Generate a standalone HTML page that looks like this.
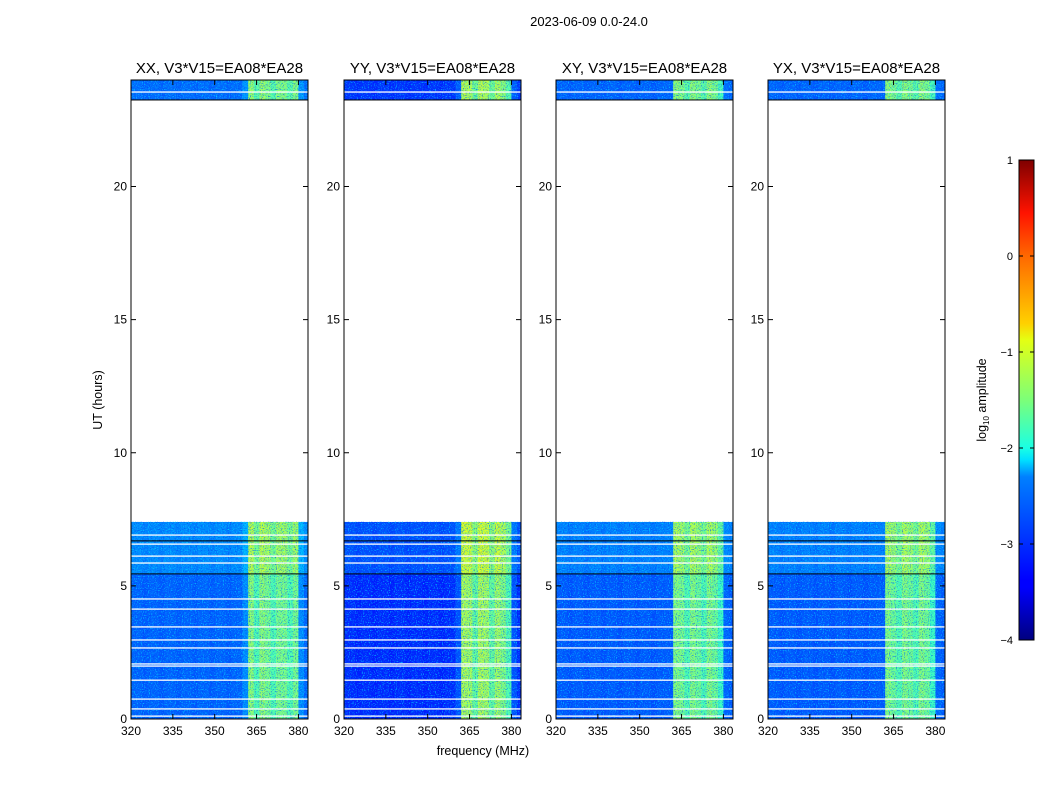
<!DOCTYPE html>
<html><head><meta charset="utf-8"><style>
body{margin:0;background:#fff;}
svg{display:block;font-family:"Liberation Sans","DejaVu Sans",sans-serif;}
</style></head><body>
<svg id="fig" width="1050" height="800" viewBox="0 0 1050 800">
<defs>
<linearGradient id="jet" x1="0" y1="1" x2="0" y2="0">
<stop offset="0" stop-color="#00007f"/><stop offset="0.11" stop-color="#0000ff"/><stop offset="0.125" stop-color="#0000ff"/>
<stop offset="0.34" stop-color="#0080ff"/><stop offset="0.375" stop-color="#00e0ff"/><stop offset="0.4" stop-color="#1affe4"/>
<stop offset="0.5" stop-color="#7cff79"/><stop offset="0.625" stop-color="#e4ff13"/><stop offset="0.66" stop-color="#ffd000"/>
<stop offset="0.8" stop-color="#ff6800"/><stop offset="0.89" stop-color="#ff1300"/><stop offset="1" stop-color="#7f0000"/>
</linearGradient>
<filter id="speckleLight" x="0" y="0" width="100%" height="100%">
<feTurbulence type="fractalNoise" baseFrequency="0.85" numOctaves="1" seed="3"/>
<feColorMatrix type="matrix" values="0 0 0 0 0  0 0 0 0 0.8  0 0 0 0 1  4 0 0 0 -2.1"/>
</filter>
<filter id="speckleDark" x="0" y="0" width="100%" height="100%">
<feTurbulence type="fractalNoise" baseFrequency="0.85" numOctaves="1" seed="11"/>
<feColorMatrix type="matrix" values="0 0 0 0 0  0 0 0 0 0.05  0 0 0 0 0.85  4 0 0 0 -2.1"/>
</filter>
</defs>
<text x="589" y="26" font-size="13" text-anchor="middle">2023-06-09 0.0-24.0</text>
<text x="483" y="755" font-size="12.5" text-anchor="middle">frequency (MHz)</text>
<text x="0" y="0" font-size="12.5" text-anchor="middle" transform="translate(102,400) rotate(-90)">UT (hours)</text>
<g id="panels"></g>
<g id="cbar">
<rect x="1019" y="160" width="15" height="480" fill="url(#jet)" stroke="#000" stroke-width="1"/>
</g>
<text x="0" y="0" font-size="12.5" text-anchor="middle" transform="translate(986,400) rotate(-90)">log<tspan font-size="8" dy="3">10</tspan><tspan dy="-3"> amplitude</tspan></text>
</svg>
<script>
// ---- data ----
const panelTitles = ["XX, V3*V15=EA08*EA28","YY, V3*V15=EA08*EA28","XY, V3*V15=EA08*EA28","YX, V3*V15=EA08*EA28"];
const chanStartMHz = [320,322,324,326,328,330,332,334,336,338,340,342,344,346,348,350,352,354,356,358,360,362,364,366,368,370,372,374,376,378,380,382];
const profXX = [-2.9,-2.9,-2.95,-2.9,-2.9,-2.95,-2.9,-2.9,-2.95,-2.9,-2.9,-2.95,-2.9,-2.9,-2.95,-2.9,-2.9,-2.95,-2.9,-2.9,-2.7,-1.4,-1.7,-1.4,-1.5,-1.7,-1.5,-1.5,-1.7,-1.5,-2.7,-2.9];
const profYY = [-3.2,-3.2,-3.25,-3.2,-3.2,-3.25,-3.2,-3.2,-3.25,-3.2,-3.2,-3.25,-3.2,-3.2,-3.25,-3.2,-3.2,-3.25,-3.2,-3.2,-3.0,-1.25,-1.3,-1.6,-1.25,-1.3,-1.6,-1.3,-1.45,-1.7,-3.0,-3.2];
const profXY = [-2.95,-2.95,-3.0,-2.95,-2.95,-3.0,-2.95,-2.95,-3.0,-2.95,-2.95,-3.0,-2.95,-2.95,-3.0,-2.95,-2.95,-3.0,-2.95,-2.95,-2.95,-1.45,-1.5,-1.7,-1.45,-1.55,-1.7,-1.45,-1.55,-1.8,-2.9,-2.95];
const profYX = [-2.95,-2.95,-3.0,-2.95,-2.95,-3.0,-2.95,-2.95,-3.0,-2.95,-2.95,-3.0,-2.95,-2.95,-3.0,-2.95,-2.95,-3.0,-2.95,-2.95,-2.95,-1.45,-1.55,-1.7,-1.45,-1.55,-1.7,-1.45,-1.55,-1.8,-2.9,-2.95];
const profiles = [profXX,profYY,profXY,profYX];
const segStart = [0,5.45,23.25];
const segEnd = [5.45,7.4,24.0];
const segOffset = [0,0.2,0.05];
const gapHours = [0.11,0.38,0.75,1.46,1.99,2.07,2.67,2.97,3.46,4.13,4.51,5.86,6.12,6.57,6.91,23.55];
const blackHours = [5.45,6.69,23.25];
const yTicks = [0,5,10,15,20];
const xTicks = [320,335,350,365,380];
const cbTicks = [1,0,-1,-2,-3,-4];

// ---- layout ----
const NS="http://www.w3.org/2000/svg";
const panelX=[131,344,556,768], PW=177, PT=80, PB=719;
const fMin=320, fMax=383.44, tMin=0, tMax=24;
function xs(i,f){return panelX[i]+(f-fMin)/(fMax-fMin)*PW;}
function ys(h){return PB-(h-tMin)/(tMax-tMin)*(PB-PT);}
function jet(v){const t=Math.max(0,Math.min(1,(v+4)/5));const c=x=>Math.round(255*Math.max(0,Math.min(1,x)));
 return `rgb(${c(1.5-Math.abs(4*t-3))},${c(1.5-Math.abs(4*t-2))},${c(1.5-Math.abs(4*t-1))})`;}
function mk(tag,attrs,parent){const e=document.createElementNS(NS,tag);for(const k in attrs)e.setAttribute(k,attrs[k]);parent.appendChild(e);return e;}
const root=document.getElementById('panels');
for(let i=0;i<4;i++){
 const g=mk('g',{},root);
 
 
 const clipId='clip'+i;
 const cp=mk('clipPath',{id:clipId},g);mk('rect',{x:panelX[i],y:PT,width:PW,height:PB-PT},cp);
 const dg=mk('g',{'clip-path':`url(#${clipId})`},g);
 for(let s=0;s<segStart.length;s++){
  for(let c=0;c<chanStartMHz.length;c++){
   const x0=xs(i,chanStartMHz[c]),x1=xs(i,chanStartMHz[c]+2);
   const r=mk('rect',{x:x0,y:ys(segEnd[s]),width:x1-x0+0.3,height:ys(segStart[s])-ys(segEnd[s]),fill:jet(profiles[i][c]+segOffset[s])},dg);
   
   
  }
  const sy=ys(segEnd[s]), sh=ys(segStart[s])-ys(segEnd[s]);
  mk('rect',{x:panelX[i],y:sy,width:PW,height:sh,fill:'#000',filter:'url(#speckleLight)',opacity:0.8},dg);
  mk('rect',{x:panelX[i],y:sy,width:PW,height:sh,fill:'#000',filter:'url(#speckleDark)',opacity:0.7},dg);
 }
 for(const h of gapHours){const l=mk('rect',{x:panelX[i],y:ys(h)-0.6,width:PW,height:1.3,fill:'#fff'},dg);
  
  }
 for(const h of blackHours){const l=mk('rect',{x:panelX[i],y:ys(h)-0.5,width:PW,height:1,fill:'#000'},dg);
  
  }
 mk('rect',{x:panelX[i],y:PT,width:PW,height:PB-PT,fill:'none',stroke:'#000','stroke-width':1},g);
 for(const t of yTicks){const y=ys(t);
  mk('line',{x1:panelX[i],x2:panelX[i]+5,y1:y,y2:y,stroke:'#000'},g);
  mk('line',{x1:panelX[i]+PW,x2:panelX[i]+PW-5,y1:y,y2:y,stroke:'#000'},g);
  const tx=mk('text',{x:panelX[i]-4,y:y+4,'font-size':12,'text-anchor':'end'},g);tx.textContent=t;
  
  }
 for(const f of xTicks){const x=xs(i,f);
  mk('line',{x1:x,x2:x,y1:PB,y2:PB-5,stroke:'#000'},g);
  mk('line',{x1:x,x2:x,y1:PT,y2:PT+5,stroke:'#000'},g);
  const tx=mk('text',{x:x,y:PB+16,'font-size':12,'text-anchor':'middle'},g);tx.textContent=f;
  
  }
 const tt=mk('text',{x:panelX[i]+PW/2,y:73,'font-size':15,'text-anchor':'middle'},g);tt.textContent=panelTitles[i];
 
 
}
const cb=document.getElementById('cbar');
for(const t of cbTicks){const y=640-(t+4)/5*480;
 mk('line',{x1:1019,x2:1023,y1:y,y2:y,stroke:'#000'},cb);
 mk('line',{x1:1034,x2:1030,y1:y,y2:y,stroke:'#000'},cb);
 const tx=mk('text',{x:1013,y:y+4,'font-size':11,'text-anchor':'end'},cb);tx.textContent=(t<0?'\u2212'+(-t):t);
 
 }
</script>
</body></html>
